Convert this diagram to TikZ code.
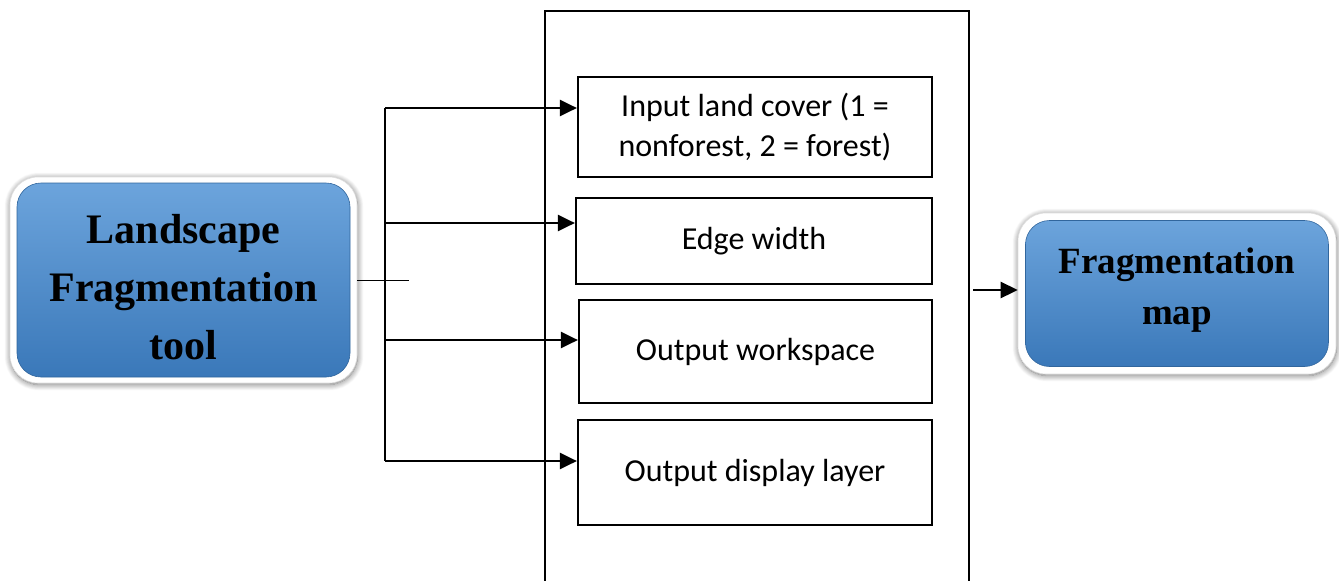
\documentclass[tikz,border=0pt]{standalone}
\usepackage{fontspec}
\newfontfamily\calfont{Carlito}
\newfontfamily\tmsfont{Liberation Serif}
\usetikzlibrary{arrows.meta,shadows.blur}
\definecolor{bluetop}{HTML}{6CA4DC}
\definecolor{bluebot}{HTML}{3A78B9}
\tikzset{
  inbox/.style={draw=black,line width=2.2pt,inner sep=0pt,align=center,font=\calfont\fontsize{32}{40}\selectfont},
  outerbox/.style={fill=white,draw=gray!25,line width=0.6pt,rounded corners=28pt,inner sep=0pt,blur shadow={shadow xshift=0.5pt,shadow yshift=-1.5pt,shadow blur radius=6pt,shadow blur steps=12,shadow opacity=55}},
  bluebox/.style={rounded corners=24pt,inner sep=0pt,top color=bluetop,bottom color=bluebot,draw=bluebot!85!black,line width=0.6pt},
  bigtext/.style={align=center,inner sep=0pt},
  arr/.style={line width=2.6pt,-{Triangle[length=17pt,width=16pt]}},
}
\begin{document}
\begin{tikzpicture}[x=1pt,y=-1pt]
\useasboundingbox (0,0) rectangle (1339,581);
% big container
\draw[line width=2.2pt] (545,585) -- (545,11) -- (969,11) -- (969,585);
% input boxes
\node[inbox,minimum width=354pt,minimum height=100pt] (in1) at (755,127) {Input land cover (1 =\\nonforest, 2 = forest)};
\node[inbox,minimum width=356pt,minimum height=86pt] (in2) at (754,241) {Edge width};
\node[inbox,minimum width=353pt,minimum height=103pt] (in3) at (755.5,351.5) {Output workspace};
\node[inbox,minimum width=354pt,minimum height=105pt] (in4) at (755,472.5) {Output display layer};
% left tool box
\node[outerbox,minimum width=347pt,minimum height=206pt] (lout) at (183.5,280) {};
\node[bluebox,minimum width=333pt,minimum height=194pt] (lblue) at (lout.center) {};
\node[bigtext,font=\tmsfont\bfseries\fontsize{42}{58}\selectfont] (ltxt) at (183.5,287) {Landscape\\Fragmentation\\tool};
% right map box
\node[outerbox,minimum width=318pt,minimum height=161pt] (rout) at (1177,293.5) {};
\node[bluebox,minimum width=303pt,minimum height=146pt] (rblue) at (rout.center) {};
\node[bigtext,font=\tmsfont\bfseries\fontsize{37}{51}\selectfont] (rtxt) at (1177,290) {Fragmentation\\map};
% bus
\coordinate (b1) at (385,108);
\coordinate (b2) at (385,223);
\coordinate (b3) at (385,340);
\coordinate (b4) at (385,461);
\coordinate (tick) at (409,280);
\draw[line width=1.5pt] (b1) -- (b4);
\draw[line width=0.8pt] (lout.east) -- (tick);
\draw[arr] (b1) -- (b1 -| in1.west);
\draw[arr] (b2) -- (b2 -| in2.west);
\draw[arr] (b3) -- (b3 -| in3.west);
\draw[arr] (b4) -- (b4 -| in4.west);
% output arrow
\coordinate (o0) at (973,290);
\draw[arr] (o0) -- (o0 -| rout.west);
\end{tikzpicture}
\end{document}
